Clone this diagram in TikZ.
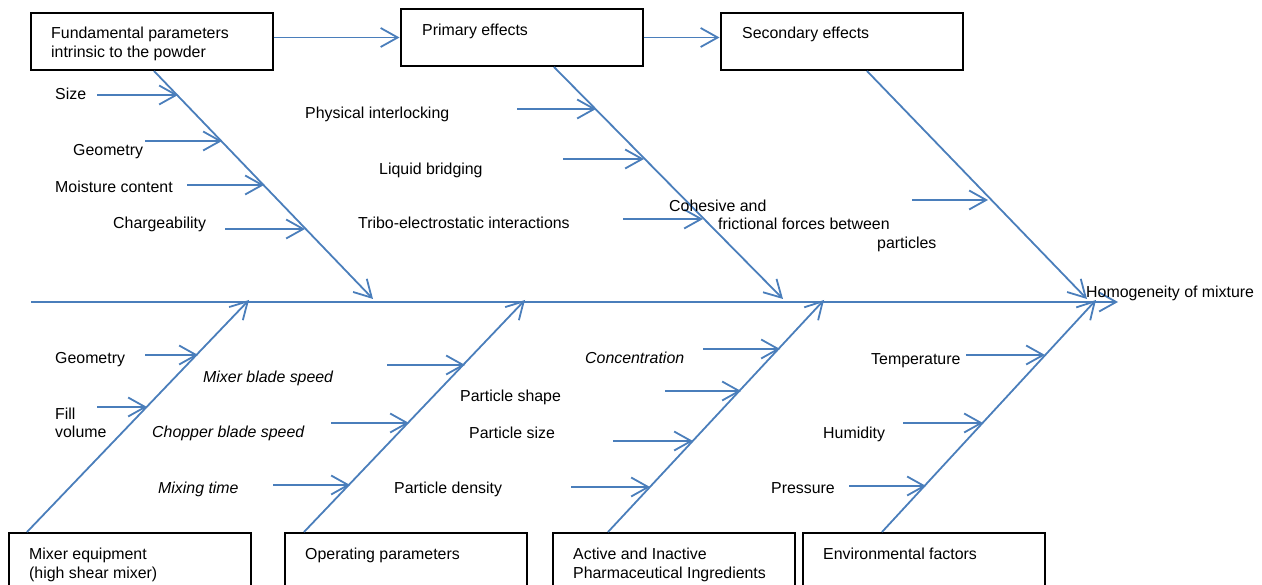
\documentclass[tikz,border=0pt]{standalone}
\usepackage{fontspec}
\setmainfont{Liberation Sans}
\usetikzlibrary{arrows.meta,positioning}
\definecolor{boneblue}{HTML}{4A7EBB}
\tikzset{
  bone/.style={draw=boneblue, line width=1.8pt,
    -{Straight Barb[length=17pt,width=19pt]}},
  causebox/.style={draw, line width=2pt, minimum width=242pt,
    minimum height=57pt, inner sep=0pt},
  cause/.style={anchor=base west, inner sep=0pt, align=left},
}

\begin{document}
\begin{tikzpicture}[x=1pt, y=-1pt, font=\fontsize{15.9}{18.4}\selectfont]
 \useasboundingbox (0,0) rectangle (1262,585);
 \clip (0,0) rectangle (1262,585);

 \coordinate (tail) at (31,302);
 \coordinate (head) at (1118,302);
 \draw[bone] (tail) -- (head);
 \node[cause] (homog) at (1086,297.5) {Homogeneity of mixture};

 \node[causebox] (fund) at (151.5,41.5) {};
 \node[causebox, right=126pt of fund, yshift=4pt] (primary) {};
 \node[causebox, right=76pt of primary, yshift=-4pt] (secondary) {};
 \node[causebox] (mixer) at (129.5,561.5) {};
 \node[causebox, right=32pt of mixer] (operating) {};
 \node[causebox, right=24pt of operating] (active) {};
 \node[causebox, right=6pt of active] (environ) {};

 \node[cause] (fund-text) at (51,57.4) {Fundamental parameters\\intrinsic to the powder};
 \node[cause] (primary-text) at (422,35.5) {Primary effects};
 \node[cause] (secondary-text) at (742,39) {Secondary effects};
 \node[cause] (mixer-text) at (29,578) {Mixer equipment\\(high shear mixer)};
 \node[cause] (operating-text) at (305,559.5) {Operating parameters};
 \node[cause] (active-text) at (573,578) {Active and Inactive\\Pharmaceutical Ingredients};
 \node[cause] (environ-text) at (823,559.5) {Environmental factors};

 \draw[bone] (fund.east |- primary) -- (primary.west);
 \draw[bone] (primary.east) -- (primary.east -| secondary.west);

 \coordinate (fund-tip) at (373,299);
 \coordinate (primary-tip) at (783,299);
 \coordinate (secondary-tip) at (1087,299);
 \coordinate (mixer-tip) at (249,300);
 \coordinate (operating-tip) at (525,300);
 \coordinate (active-tip) at (824,300);
 \coordinate (environ-tip) at (1096,300);
 \draw[bone] ([xshift=2.5pt]fund.south) -- (fund-tip);
 \draw[bone] ([xshift=32.5pt]primary.south) -- (primary-tip);
 \draw[bone] ([xshift=25.5pt]secondary.south) -- (secondary-tip);
 \draw[bone] ([xshift=-102.5pt]mixer.north) -- (mixer-tip);
 \draw[bone] ([xshift=-101.5pt]operating.north) -- (operating-tip);
 \draw[bone] ([xshift=-65.5pt]active.north) -- (active-tip);
 \draw[bone] ([xshift=-41.5pt]environ.north) -- (environ-tip);

 \foreach \n/\xa/\xb/\y in {size/97/178/95, geo/145/222/141, moist/187/264/185,
   charge/225/305/229, inter/517/596/109, bridge/563/644/159, tribo/623/703/219,
   force/912/988/200, geob/145/198/355, fill/97/147/407, blade/387/465/365,
   chop/331/409/423, mixt/273/350/485, conc/703/780/349, shape/665/741/391,
   psize/613/693/441, dens/571/650/487, temp/966/1045/355, humid/903/983/423,
   press/849/926/486}
 {
   \coordinate (\n-from) at (\xa,\y);
   \coordinate (\n-to) at (\xb,\y);
   \draw[bone] (\n-from) -- (\n-to);
 }

 \node[cause] (size) at (55,100) {Size};
 \node[cause] (geo) at (73,155.6) {Geometry};
 \node[cause] (moist) at (55,192.6) {Moisture content};
 \node[cause] (charge) at (113,228.3) {Chargeability};
 \node[cause] (inter) at (305,119) {Physical interlocking};
 \node[cause] (bridge) at (379,174.6) {Liquid bridging};
 \node[cause] (tribo) at (358,229) {Tribo-electrostatic interactions};
 \node[cause] (force) at (669,248.1) {Cohesive and\\\hspace*{49pt}frictional forces between\\\hspace*{208pt}particles};
 \node[cause] (geob) at (55,364) {Geometry};
 \node[cause] (fill) at (55,438) {Fill\\volume};
 \node[cause] (blade) at (203,383) {\textit{Mixer blade speed}};
 \node[cause] (chop) at (152,438) {\textit{Chopper blade speed}};
 \node[cause] (mixt) at (158,493.3) {\textit{Mixing time}};
 \node[cause] (shape) at (460,401.3) {Particle shape};
 \node[cause] (psize) at (469,438.3) {Particle size};
 \node[cause] (dens) at (394,493.3) {Particle density};
 \node[cause] (conc) at (585,364) {\textit{Concentration}};
 \node[cause] (temp) at (871,364.6) {Temperature};
 \node[cause] (humid) at (823,438.3) {Humidity};
 \node[cause] (press) at (771,493.3) {Pressure};
\end{tikzpicture}
\end{document}
